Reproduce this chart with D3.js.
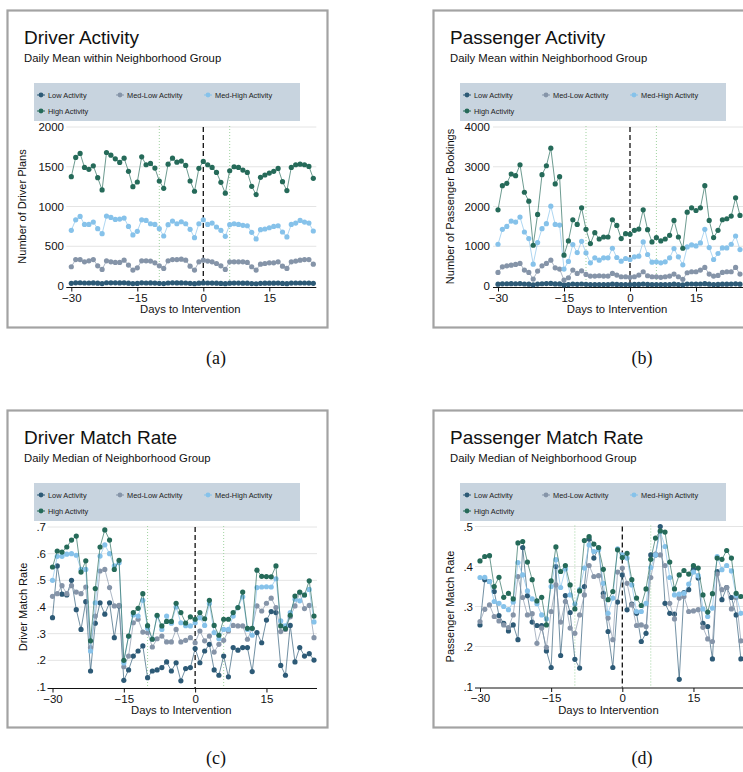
<!DOCTYPE html>
<html><head><meta charset="utf-8">
<script src="https://cdn.jsdelivr.net/npm/d3@7"></script>
<style>body{margin:0;background:#fff}svg{display:block}</style>
</head><body>
<svg id="chart" width="743" height="772"></svg>
<script>
// ---------- DATA ----------
const days = [-30,-29,-28,-27,-26,-25,-24,-23,-22,-21,-20,-19,-18,-17,-16,-15,-14,-13,-12,-11,-10,-9,-8,-7,-6,-5,-4,-3,-2,-1,0,1,2,3,4,5,6,7,8,9,10,11,12,13,14,15,16,17,18,19,20,21,22,23,24,25];
const seriesNames = ["Low Activity","Med-Low Activity","Med-High Activity","High Activity"];
const xTicks = [-30,-15,0,15];
const eventDays = [-10, 6];

// (a) Driver Activity
const driverLow = [34,40,41,38,38,39,35,30,41,40,40,39,40,36,30,32,40,38,39,37,34,30,38,40,39,39,38,34,29,36,39,38,37,36,33,29,36,37,37,36,35,31,28,34,35,36,36,37,33,29,37,38,38,38,37,34];
const driverMedLow = [242,333,333,304,317,333,254,208,317,304,296,296,325,263,200,229,317,317,313,292,254,221,317,333,333,338,325,250,200,304,325,313,304,283,254,208,304,304,304,304,296,242,200,275,283,292,292,304,250,221,304,313,325,333,333,275];
const driverMedHigh = [700,833,875,775,775,804,721,658,879,863,838,842,854,750,642,688,833,825,783,775,721,629,771,817,783,808,783,713,608,783,833,775,792,742,700,625,771,783,775,763,758,675,592,708,717,733,750,758,679,617,775,792,825,804,792,692];
const driverHigh = [1375,1617,1667,1492,1467,1512,1362,1208,1679,1646,1600,1554,1608,1442,1250,1308,1625,1525,1542,1483,1321,1229,1533,1608,1558,1571,1517,1321,1192,1480,1567,1525,1492,1429,1304,1167,1450,1500,1492,1458,1429,1254,1150,1367,1396,1421,1442,1479,1312,1200,1492,1525,1533,1525,1504,1354];
const driverTicks = [0,500,1000,1500,2000];

// (b) Passenger Activity
const paxLow = [45,55,56,58,57,60,50,45,30,48,56,60,65,52,52,28,35,48,42,50,42,36,38,37,38,38,45,40,36,38,37,39,40,48,40,35,36,35,36,38,45,38,30,48,50,49,50,58,45,37,40,46,46,48,55,46];
const paxMedLow = [342,483,508,525,542,567,400,342,175,375,508,567,650,458,425,150,208,400,317,383,292,250,250,258,250,250,317,275,233,233,217,233,275,358,258,233,233,217,233,250,300,233,167,333,358,358,400,467,300,250,267,342,358,358,467,300];
const paxMedHigh = [1050,1425,1500,1633,1608,1733,1358,1192,550,1092,1442,1567,2008,1550,1533,425,617,1042,842,1125,833,583,708,650,708,708,950,717,625,692,667,733,750,1108,792,600,608,583,608,708,942,733,533,983,1033,1008,1083,1425,967,667,817,958,958,1050,1258,917];
const paxHigh = [1917,2525,2583,2817,2775,3050,2358,2133,1025,1800,2800,3025,3467,2567,2750,775,1133,1667,1550,1967,1425,1067,1342,1183,1233,1233,1667,1525,1192,1317,1300,1400,1433,1917,1417,1108,1217,1133,1183,1275,1650,1233,950,1858,1967,1900,1967,2525,1650,1217,1400,1667,1692,1758,2217,1775];
const paxTicks = [0,1000,2000,3000,4000];

// (c) Driver Match Rate
const dmrLow = [.36,.554,.448,.445,.5,.39,.316,.42,.16,.339,.416,.373,.416,.285,.404,.125,.164,.216,.235,.254,.135,.16,.164,.173,.194,.16,.191,.123,.169,.173,.244,.191,.235,.26,.164,.144,.216,.138,.248,.238,.248,.248,.158,.304,.266,.351,.383,.379,.181,.144,.331,.194,.248,.216,.225,.201];
const dmrMedLow = [.44,.45,.48,.45,.48,.456,.45,.475,.248,.366,.535,.541,.473,.404,.406,.176,.216,.341,.354,.306,.304,.25,.281,.291,.269,.269,.316,.269,.275,.285,.266,.31,.273,.291,.231,.26,.275,.31,.331,.329,.329,.279,.319,.404,.385,.414,.433,.398,.308,.316,.363,.404,.454,.394,.406,.285];
const dmrMedHigh = [.5,.59,.59,.598,.6,.594,.541,.541,.235,.416,.591,.633,.6,.554,.566,.19,.29,.37,.366,.425,.32,.28,.366,.316,.366,.339,.4,.341,.33,.329,.341,.36,.331,.413,.304,.281,.316,.316,.366,.398,.438,.316,.294,.473,.475,.476,.475,.506,.348,.329,.379,.429,.423,.445,.466,.344];
const dmrHigh = [.55,.61,.606,.625,.651,.666,.531,.573,.273,.469,.625,.689,.651,.541,.575,.2,.291,.379,.395,.45,.33,.279,.369,.329,.346,.346,.414,.379,.34,.363,.354,.379,.356,.425,.331,.294,.354,.354,.379,.398,.456,.32,.32,.538,.515,.514,.513,.554,.329,.319,.369,.441,.456,.445,.498,.366];
const dmrTicks = [.1,.2,.3,.4,.5,.6,.7];

// (d) Passenger Match Rate
const pmrLow = [.254,.367,.3625,.3375,.2775,.258,.239,.254,.217,.4475,.327,.261,.2525,.2525,.189,.1475,.4,.1775,.3275,.285,.168,.146,.35,.469,.421,.446,.333,.2375,.1475,.311,.379,.2917,.306,.283,.2125,.233,.429,.429,.5,.308,.283,.281,.118,.335,.342,.394,.371,.258,.25,.169,.3875,.317,.3475,.3225,.279,.169];
const pmrMedLow = [.2625,.293,.304,.275,.264,.254,.2475,.279,.375,.3225,.279,.282,.208,.246,.198,.2875,.354,.261,.3125,.246,.233,.279,.329,.4025,.375,.377,.325,.271,.217,.386,.396,.358,.304,.2525,.254,.25,.3725,.431,.429,.4025,.308,.269,.321,.325,.2875,.289,.292,.248,.219,.2125,.381,.342,.3475,.294,.3225,.214];
const pmrMedHigh = [.3725,.373,.3625,.3125,.308,.3,.292,.311,.41,.379,.339,.319,.307,.279,.269,.35,.417,.3475,.394,.329,.306,.342,.396,.454,.4375,.442,.358,.283,.321,.444,.429,.421,.354,.2875,.2875,.308,.3975,.429,.4875,.45,.3725,.329,.331,.333,.356,.386,.377,.294,.275,.296,.425,.392,.4025,.389,.3275,.283];
const pmrHigh = [.414,.425,.427,.35,.373,.323,.333,.319,.459,.4625,.411,.367,.314,.323,.254,.364,.449,.3875,.4025,.354,.294,.339,.465,.475,.456,.4475,.393,.317,.3375,.4417,.4225,.433,.367,.321,.3025,.344,.418,.471,.489,.486,.411,.344,.379,.39,.381,.4025,.396,.329,.286,.332,.421,.418,.44,.421,.333,.325];
const pmrTicks = [.1,.2,.3,.4,.5];

// ---------- STYLE / LAYOUT ----------
const colors = ["#2d5a76","#8594a8","#86c2ea","#256a59"];
const FONT = "'Liberation Sans', Arial, Helvetica, sans-serif";
const rateFmt = v => d3.format(".1f")(v).replace(/^0/, "");

const panels = [
  {ox:0, oy:0, title:"Driver Activity", sub:"Daily Mean within Neighborhood Group", ylab:"Number of Driver Plans",
   data:[driverLow,driverMedLow,driverMedHigh,driverHigh], ticks:driverTicks, dom:[0,2000], fmt:d=>String(d),
   xr:[71.3,313.3], yr:[286,127], tickRight:64, ylabX:26, cap:"(a)"},
  {ox:426, oy:0, title:"Passenger Activity", sub:"Daily Mean within Neighborhood Group", ylab:"Number of Passenger Bookings",
   data:[paxLow,paxMedLow,paxMedHigh,paxHigh], ticks:paxTicks, dom:[0,4000], fmt:d=>String(d),
   xr:[498,740], yr:[286,127], tickRight:490, ylabX:454, cap:"(b)"},
  {ox:0, oy:400, title:"Driver Match Rate", sub:"Daily Median of Neighborhood Group", ylab:"Driver Match Rate",
   data:[dmrLow,dmrMedLow,dmrMedHigh,dmrHigh], ticks:dmrTicks, dom:[.1,.7], fmt:rateFmt,
   xr:[52.5,314], yr:[687,527], tickRight:46, ylabX:27, cap:"(c)"},
  {ox:426, oy:400, title:"Passenger Match Rate", sub:"Daily Median of Neighborhood Group", ylab:"Passenger Match Rate",
   data:[pmrLow,pmrMedLow,pmrMedHigh,pmrHigh], ticks:pmrTicks, dom:[.1,.5], fmt:rateFmt,
   xr:[480,740.9], yr:[686.5,526.5], tickRight:473, ylabX:454, cap:"(d)"}
];

const svg = d3.select("#chart");
svg.append("rect").attr("width",743).attr("height",772).attr("fill","#fff");

panels.forEach(p => {
  const g = svg.append("g");
  const x = d3.scaleLinear().domain([days[0], days[days.length-1]]).range(p.xr);
  const y = d3.scaleLinear().domain(p.dom).range(p.yr);

  // frame
  g.append("rect").attr("x",p.ox+7.5).attr("y",p.oy+10.5).attr("width",320).attr("height",317)
    .attr("fill","#fff").attr("stroke","#a3a3a3").attr("stroke-width",2.2);

  // titles
  g.append("text").attr("x",p.ox+24).attr("y",p.oy+44).attr("font-family",FONT).attr("font-size",19)
    .attr("fill","#111").text(p.title);
  g.append("text").attr("x",p.ox+24).attr("y",p.oy+62).attr("font-family",FONT).attr("font-size",11.3)
    .attr("fill","#111").text(p.sub);

  // legend
  const lg = g.append("g");
  lg.append("rect").attr("x",p.ox+34).attr("y",p.oy+83).attr("width",266).attr("height",38).attr("fill","#c8d4df");
  const legPos = [[41,95],[120,95],[208,95],[41,111]];
  seriesNames.forEach((nm,i) => {
    const lx = p.ox+legPos[i][0], ly = p.oy+legPos[i][1];
    lg.append("line").attr("x1",lx-4).attr("x2",lx+4).attr("y1",ly).attr("y2",ly)
      .attr("stroke",colors[i]).attr("stroke-width",1);
    lg.append("circle").attr("cx",lx).attr("cy",ly).attr("r",2.4).attr("fill",colors[i]);
    lg.append("text").attr("x",lx+7).attr("y",ly+2.6).attr("font-family",FONT).attr("font-size",7.4)
      .attr("fill","#222").text(nm);
  });

  // gridlines
  const gx0 = p.xr[0]-5, gx1 = p.xr[1]+3;
  g.append("g").selectAll("line").data(p.ticks.slice(1)).join("line")
    .attr("x1",gx0).attr("x2",gx1).attr("y1",d=>y(d)).attr("y2",d=>y(d))
    .attr("stroke","#e4e4e4").attr("stroke-width",1);

  // y tick labels
  g.append("g").selectAll("text").data(p.ticks).join("text")
    .attr("x",p.tickRight).attr("y",d=>y(d)+4).attr("text-anchor","end")
    .attr("font-family",FONT).attr("font-size",11.5).attr("fill","#111").text(p.fmt);

  // y label
  const ymid = (p.yr[0]+p.yr[1])/2;
  g.append("text").attr("transform",`translate(${p.ylabX},${ymid}) rotate(-90)`)
    .attr("text-anchor","middle").attr("font-family",FONT).attr("font-size",11).attr("fill","#111").text(p.ylab);

  // x axis
  const ax = g.append("g").attr("transform",`translate(0,${p.yr[0]+1.5})`)
    .call(d3.axisBottom(x).tickValues(xTicks).tickSize(4).tickSizeOuter(0).tickPadding(2));
  ax.select(".domain").attr("d",`M${gx0},0H${gx1}`).attr("stroke","#111");
  ax.selectAll(".tick line").attr("stroke","#111");
  ax.selectAll("text").attr("font-family",FONT).attr("font-size",11.5).attr("fill","#111");
  g.append("text").attr("x",(p.xr[0]+p.xr[1])/2 - 2).attr("y",p.yr[0]+27).attr("text-anchor","middle")
    .attr("font-family",FONT).attr("font-size",11.3).attr("fill","#111").text("Days to Intervention");

  // event lines
  g.append("g").selectAll("line").data(eventDays).join("line")
    .attr("x1",d=>x(d)).attr("x2",d=>x(d)).attr("y1",p.yr[1]-1).attr("y2",p.yr[0]+1)
    .attr("stroke","#9fd39f").attr("stroke-width",1).attr("stroke-dasharray","1,2");
  g.append("line").attr("x1",x(0)).attr("x2",x(0)).attr("y1",p.yr[1]).attr("y2",p.yr[0]+1)
    .attr("stroke","#111").attr("stroke-width",1.3).attr("stroke-dasharray","5,3");

  // series
  const line = d3.line().x((d,i)=>x(days[i])).y(d=>y(d));
  p.data.forEach((vals,si) => {
    const sg = g.append("g");
    sg.append("path").datum(vals).attr("d",line).attr("fill","none")
      .attr("stroke",colors[si]).attr("stroke-opacity",0.75).attr("stroke-width",0.9);
    sg.selectAll("circle").data(vals).join("circle")
      .attr("cx",(d,i)=>x(days[i])).attr("cy",d=>y(d)).attr("r",2.6).attr("fill",colors[si]);
  });

  // caption
  g.append("text").attr("x",p.ox+216).attr("y",p.oy+364).attr("text-anchor","middle")
    .attr("font-family","'Linux Libertine','Liberation Serif','DejaVu Serif',serif").attr("font-size",18)
    .attr("fill","#111").text(p.cap);
});
</script>
</body></html>
